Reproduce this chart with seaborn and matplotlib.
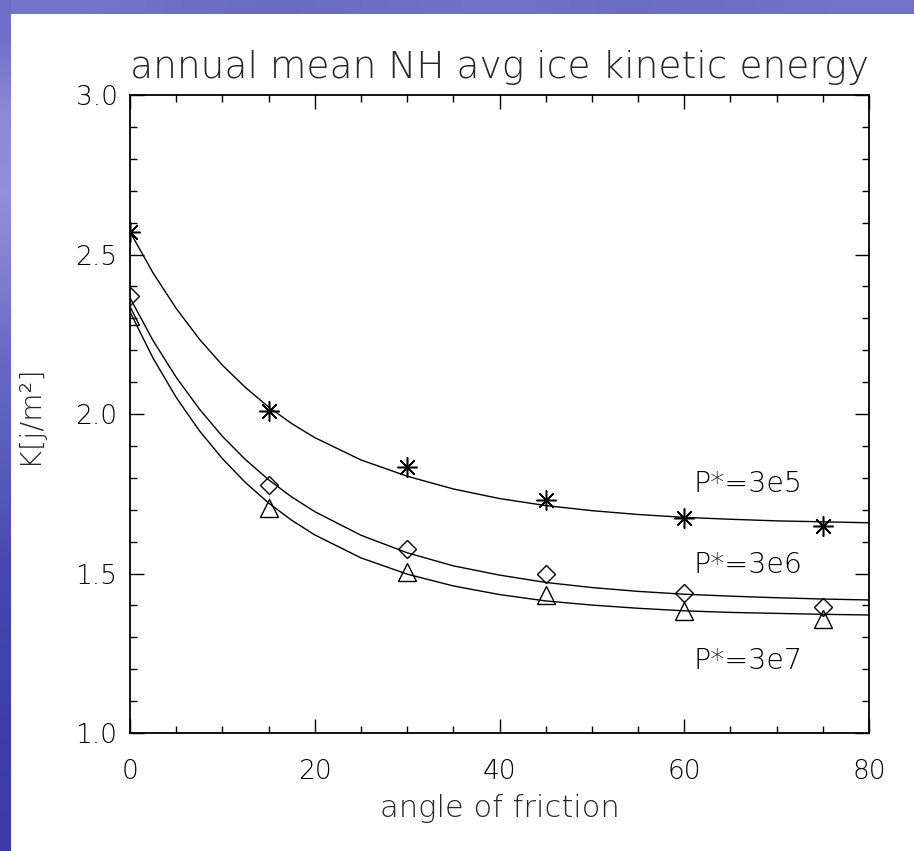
import numpy as np
import pandas as pd
import matplotlib
matplotlib.use("Agg")
import matplotlib.pyplot as plt
from matplotlib.colors import LinearSegmentedColormap
import seaborn as sns

# ---- data ----
angles = [0, 15, 30, 45, 60, 75]
k_p3e5 = [2.571, 2.009, 1.833, 1.730, 1.675, 1.649]
k_p3e6 = [2.371, 1.777, 1.576, 1.497, 1.440, 1.396]
k_p3e7 = [2.308, 1.704, 1.505, 1.434, 1.383, 1.357]

# fitted curves
curve_x = [0, 2.5, 5, 7.5, 10, 12.5, 15, 17.5, 20, 25, 30, 35, 40, 45, 50, 55, 60, 65, 70, 75, 80]
curve_p3e5 = [2.571, 2.442, 2.331, 2.235, 2.153, 2.083, 2.022, 1.970, 1.926, 1.856, 1.805,
              1.765, 1.735, 1.713, 1.697, 1.685, 1.676, 1.670, 1.665, 1.662, 1.659]
curve_p3e6 = [2.364, 2.230, 2.115, 2.016, 1.930, 1.857, 1.794, 1.740, 1.694, 1.620, 1.565,
              1.524, 1.495, 1.472, 1.456, 1.444, 1.435, 1.429, 1.424, 1.420, 1.417]
curve_p3e7 = [2.320, 2.175, 2.052, 1.948, 1.860, 1.785, 1.721, 1.667, 1.621, 1.549, 1.498,
              1.461, 1.434, 1.414, 1.401, 1.391, 1.383, 1.378, 1.375, 1.372, 1.370]

series_labels = ["P*=3e5", "P*=3e6", "P*=3e7"]
label_pos_x = [61.0, 61.0, 61.0]
label_pos_y = [1.779, 1.528, 1.227]

x_ticks = [0, 20, 40, 60, 80]
y_ticks = [1.0, 1.5, 2.0, 2.5, 3.0]

sns.set_style("ticks")
plt.rcParams["font.family"] = ["DejaVu Sans"]
plt.rcParams["font.weight"] = "light"

W, H = 914, 851
fig = plt.figure(figsize=(W / 100, H / 100), dpi=100, facecolor="white")

# slide background strips
cm = LinearSegmentedColormap.from_list("slide", ["#9090d8", "#6c6cc6", "#4848b0", "#3a3aa6"])
top_ax = fig.add_axes([0, 1 - 14 / H, 1, 14 / H])
top_ax.imshow(np.array([[0.25, 0.3, 0.35, 0.3, 0.28, 0.33, 0.3, 0.27]]), aspect="auto", cmap=cm,
              vmin=0, vmax=1, interpolation="bilinear")
top_ax.axis("off")
left_ax = fig.add_axes([0, 0, 11 / W, 1])
left_ax.imshow(np.array([[0.3], [0.05], [0.0], [0.15], [0.35], [0.45], [0.55], [0.7], [0.8], [0.9], [0.95]]),
               aspect="auto", cmap=cm, vmin=0, vmax=1, interpolation="bilinear")
left_ax.axis("off")

ax = fig.add_axes([130 / W, 1 - 733 / H, (869 - 130) / W, (733 - 95) / H])
ax.set_facecolor("white")

curves = pd.DataFrame({"x": curve_x, "a": curve_p3e5, "b": curve_p3e6, "c": curve_p3e7})
for col in ["a", "b", "c"]:
    sns.lineplot(data=curves, x="x", y=col, ax=ax, color="black", linewidth=1.0)

pts = pd.DataFrame({"x": angles, "a": k_p3e5, "b": k_p3e6, "c": k_p3e7})
sns.lineplot(data=pts, x="x", y="a", ax=ax, linestyle="", marker=(8, 2, 0), markersize=14.5,
             color="black", markeredgecolor="black", markeredgewidth=1.1)
sns.lineplot(data=pts, x="x", y="b", ax=ax, linestyle="", marker="D", markersize=9.5,
             color="black", markerfacecolor="none", markeredgecolor="black", markeredgewidth=1.0)
sns.lineplot(data=pts, x="x", y="c", ax=ax, linestyle="", marker="^", markersize=13,
             color="black", markerfacecolor="none", markeredgecolor="black", markeredgewidth=1.0)

for lab, lx, ly in zip(series_labels, label_pos_x, label_pos_y):
    ax.text(lx, ly, lab, ha="left", va="center", fontsize=20.5, color="black", fontweight="light")

ax.set_xlim(0, 80)
ax.set_ylim(1.0, 3.0)
ax.set_xticks(x_ticks)
ax.set_xticklabels([str(v) for v in x_ticks])
ax.set_yticks(y_ticks)
ax.set_yticklabels([f"{v:.1f}" for v in y_ticks])
ax.set_xticks(np.arange(0, 81, 5), minor=True)
ax.set_yticks(np.arange(1.0, 3.01, 0.1), minor=True)
ax.tick_params(which="both", direction="in", top=True, right=True, width=1.0, colors="black")
ax.tick_params(which="major", length=10)
ax.tick_params(which="minor", length=5)
ax.tick_params(axis="x", which="major", pad=19, labelsize=19)
ax.tick_params(axis="y", which="major", pad=9, labelsize=19)
for s in ax.spines.values():
    s.set_linewidth(1.3)
    s.set_color("black")

ax.set_xlabel("angle of friction", fontsize=22, fontweight="light")
ax.xaxis.set_label_coords(0.5, -0.096)
ax.set_ylabel("K[j/m²]", fontsize=21, fontweight="light")
ax.yaxis.set_label_coords(-0.118, 0.5)
ax.set_title("annual mean NH avg ice kinetic energy", fontsize=27, fontweight="light", pad=12)

fig.savefig("out.png", dpi=100, facecolor="white")
